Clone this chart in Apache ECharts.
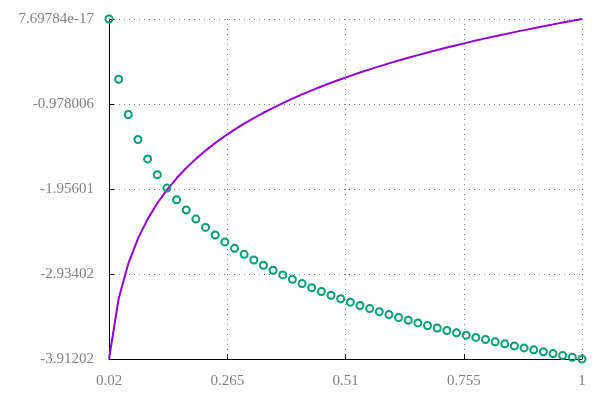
<!DOCTYPE html>
<html>
<head>
<meta charset="utf-8">
<script src="https://cdn.jsdelivr.net/npm/echarts@6/dist/echarts.min.js"></script>
<style>html,body{margin:0;padding:0;background:#fff}#c{width:600px;height:400px}</style>
</head>
<body>
<div id="c"></div>
<script>
// x sample positions
const xValues = [0.02,0.04,0.06,0.08,0.10,0.12,0.14,0.16,0.18,0.20,0.22,0.24,0.26,0.28,0.30,0.32,0.34,0.36,0.38,0.40,0.42,0.44,0.46,0.48,0.50,0.52,0.54,0.56,0.58,0.60,0.62,0.64,0.66,0.68,0.70,0.72,0.74,0.76,0.78,0.80,0.82,0.84,0.86,0.88,0.90,0.92,0.94,0.96,0.98,1.00];
// purple line values
const lineValues = [-3.912023,-3.218876,-2.813411,-2.525729,-2.302585,-2.120264,-1.966113,-1.832581,-1.714798,-1.609438,-1.514128,-1.427116,-1.347074,-1.272966,-1.203973,-1.139434,-1.078810,-1.021651,-0.967584,-0.916291,-0.867501,-0.820981,-0.776529,-0.733969,-0.693147,-0.653926,-0.616186,-0.579818,-0.544727,-0.510826,-0.478036,-0.446287,-0.415515,-0.385662,-0.356675,-0.328504,-0.301105,-0.274437,-0.248461,-0.223144,-0.198451,-0.174353,-0.150823,-0.127833,-0.105361,-0.083382,-0.061875,-0.040822,-0.020203,0];
// green circle values
const pointValues = [0,-0.693147,-1.098612,-1.386294,-1.609438,-1.791759,-1.945910,-2.079442,-2.197225,-2.302585,-2.397895,-2.484907,-2.564949,-2.639057,-2.708050,-2.772589,-2.833213,-2.890372,-2.944439,-2.995732,-3.044522,-3.091042,-3.135494,-3.178054,-3.218876,-3.258097,-3.295837,-3.332205,-3.367296,-3.401197,-3.433987,-3.465736,-3.496508,-3.526361,-3.555348,-3.583519,-3.610918,-3.637586,-3.663562,-3.688879,-3.713572,-3.737670,-3.761200,-3.784190,-3.806662,-3.828641,-3.850148,-3.871201,-3.891820,-3.912023];
const xTickLabels = ['0.02','0.265','0.51','0.755','1'];
const yTickLabels = ['-3.91202','-2.93402','-1.95601','-0.978006','7.69784e-17'];

const xMin = 0.02, xMax = 1, xStep = 0.245;
const yMin = -3.912023005428146, yMax = 7.69784e-17, yStep = (yMax - yMin) / 4;

const chart = echarts.init(document.getElementById('c'), null, {renderer: 'canvas'});
const labelFont = {color: '#808080', fontFamily: 'Liberation Serif', fontSize: 15};
const gridLine = {show: true, lineStyle: {color: '#808080', type: [1, 4], width: 1}};
chart.setOption({
  animation: false,
  backgroundColor: '#ffffff',
  grid: {left: 109, right: 18, top: 19, bottom: 41, containLabel: false},
  xAxis: {
    type: 'value', min: xMin, max: xMax, interval: xStep * 1.0000004,
    axisLine: {show: true, onZero: false, lineStyle: {color: '#000', width: 1}},
    axisTick: {show: true, inside: true, length: 5, lineStyle: {color: '#000'}},
    splitLine: gridLine,
    axisLabel: Object.assign({margin: 15, showMinLabel: true, showMaxLabel: true,
      formatter: v => xTickLabels[Math.round((v - xMin) / xStep)]}, labelFont)
  },
  yAxis: {
    type: 'value', min: yMin, max: yMax, interval: yStep * 1.0000001,
    axisLine: {show: true, onZero: false, lineStyle: {color: '#000', width: 1}},
    axisTick: {show: true, inside: true, length: 5, lineStyle: {color: '#000'}},
    splitLine: gridLine,
    axisLabel: Object.assign({margin: 15, showMinLabel: true, showMaxLabel: true,
      formatter: v => yTickLabels[Math.round((v - yMin) / yStep)]}, labelFont)
  },
  series: [
    {
      type: 'line', data: xValues.map((x, i) => [x, lineValues[i]]),
      showSymbol: false, symbol: 'none', clip: false,
      lineStyle: {color: '#9400d3', width: 2}, z: 2
    },
    {
      type: 'scatter', data: xValues.map((x, i) => [x, pointValues[i]]),
      symbol: 'circle', symbolSize: 7, clip: false,
      itemStyle: {color: 'rgba(255,255,255,0)', borderColor: '#009e73', borderWidth: 2, opacity: 1}, z: 3
    }
  ]
});
</script>
</body>
</html>
